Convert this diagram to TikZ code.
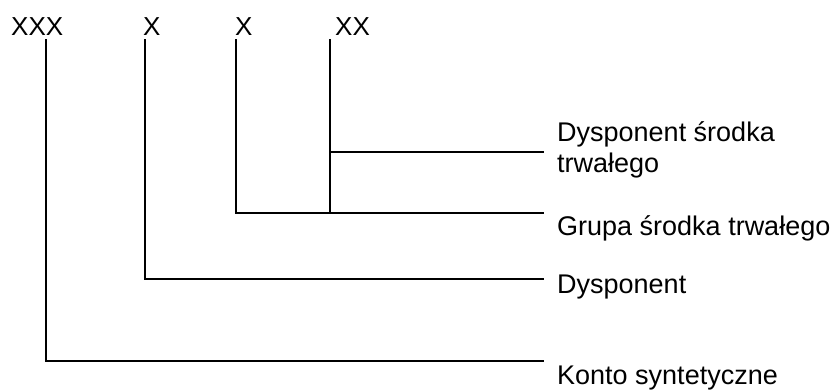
\documentclass[tikz,border=0pt]{standalone}
\usepackage{fontspec}
\setmainfont{Liberation Sans}
\begin{document}
\begin{tikzpicture}[x=1pt,y=-1pt,
  lbl/.style={anchor=base west, inner sep=0pt, font=\fontsize{27}{31}\selectfont, align=left},
  hdr/.style={anchor=base west, inner sep=0pt, font=\fontsize{26}{26}\selectfont},
  ln/.style={line width=1.6pt, line cap=butt}]
\useasboundingbox (0,0) rectangle (832,389);
% header codes
\node[hdr] (h1) at (11,35) {XXX};
\node[hdr] (h2) at (143,35) {X};
\node[hdr] (h3) at (235,35) {X};
\node[hdr] (h4) at (335,35) {XX};
% tops of the vertical lines
\coordinate (t1) at (46,39);
\coordinate (t2) at (145,39);
\coordinate (t3) at (236,39);
\coordinate (t4) at (330,39);
% labels
\node[lbl] (l4) at (557,172) {Dysponent środka\\trwałego};
\node[lbl] (l3) at (557,235) {Grupa środka trwałego};
\node[lbl] (l2) at (557,293) {Dysponent};
\node[lbl] (l1) at (557,384) {Konto syntetyczne};
% right ends of the horizontal lines
\coordinate (e4) at (544,152);
\coordinate (e3) at (544,213);
\coordinate (e2) at (544,279);
\coordinate (e1) at (544,361);
% connectors
\draw[ln] (t1) |- (e1);
\draw[ln] (t2) |- (e2);
\draw[ln] (t3) |- (e3);
\draw[ln] (t4) -- (t4 |- e3);
\draw[ln] (t4 |- e4) -- (e4);
\end{tikzpicture}
\end{document}
